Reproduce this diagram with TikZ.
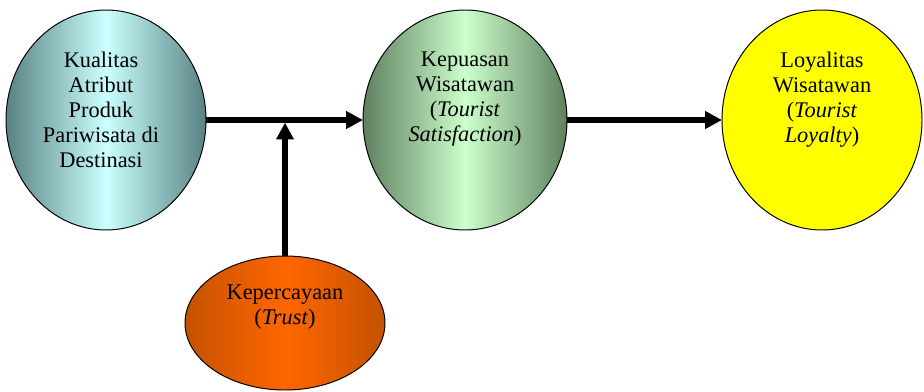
\documentclass[tikz,border=0pt]{standalone}
\usepackage{fontspec}
\setmainfont{Liberation Serif}
\usetikzlibrary{shapes.geometric,arrows.meta,positioning,calc}

\definecolor{tealgelap}{RGB}{88,130,132}
\definecolor{cyanmuda}{RGB}{204,255,255}
\definecolor{hijaugelap}{RGB}{96,128,96}
\definecolor{hijaumuda}{RGB}{204,255,204}
\definecolor{oranyegelap}{RGB}{196,82,0}
\definecolor{oranye}{RGB}{255,102,0}
\definecolor{kuning}{RGB}{255,255,0}

\begin{document}
\begin{tikzpicture}[
    varbl/.style={ellipse, draw=black, line width=0.7pt, inner sep=0pt, outer sep=0pt,
                  minimum width=5cm, minimum height=5.5cm},
    teks/.style={align=center, inner sep=0pt, anchor=north,
                 font=\fontsize{15.9}{17.8}\selectfont},
    panah/.style={line width=3.7pt, -{Triangle[length=0.42cm,width=0.42cm]}}
]
    \useasboundingbox (0,0) rectangle (23.1,9.775);

    % Variabel utama
    \node[varbl, left color=tealgelap, right color=tealgelap, middle color=cyanmuda]
        (kualitas) at (2.65,6.775) {};
    \node[varbl, minimum width=5.1cm, left color=hijaugelap, right color=hijaugelap, middle color=hijaumuda]
        (kepuasan) at (11.625,6.775) {};
    \node[varbl, fill=kuning] (loyalitas) at (20.55,6.775) {};

    % Variabel moderasi
    \node[varbl, minimum height=3.35cm, left color=oranyegelap, right color=oranyegelap, middle color=oranye]
        (trust) at (7.125,1.7) {};

    % Teks dalam elips
    \node[teks] (kualitasT) at ($(kualitas.center)+(-0.125,1.7)$)
        {Kualitas\\Atribut\\Produk\\Pariwisata di\\Destinasi};
    \node[teks] (kepuasanT) at ($(kepuasan.center)+(0,1.7)$)
        {Kepuasan\\Wisatawan\\(\textit{Tourist}\\\textit{Satisfaction})};
    \node[teks] (loyalitasT) at ($(loyalitas.center)+(0,1.7)$)
        {Loyalitas\\Wisatawan\\(\textit{Tourist}\\\textit{Loyalty})};
    \node[teks] (trustT) at ($(trust.center)+(0,0.95)$)
        {Kepercayaan\\(\textit{Trust})};

    % Panah
    \draw[panah] (kualitas) -- (kepuasan);
    \draw[panah] (kepuasan) -- (loyalitas);
    \coordinate (temu) at ($(trust.north |- kualitas.east)+(0,-0.065)$);
    \draw[panah] (trust) -- (temu);
\end{tikzpicture}
\end{document}
